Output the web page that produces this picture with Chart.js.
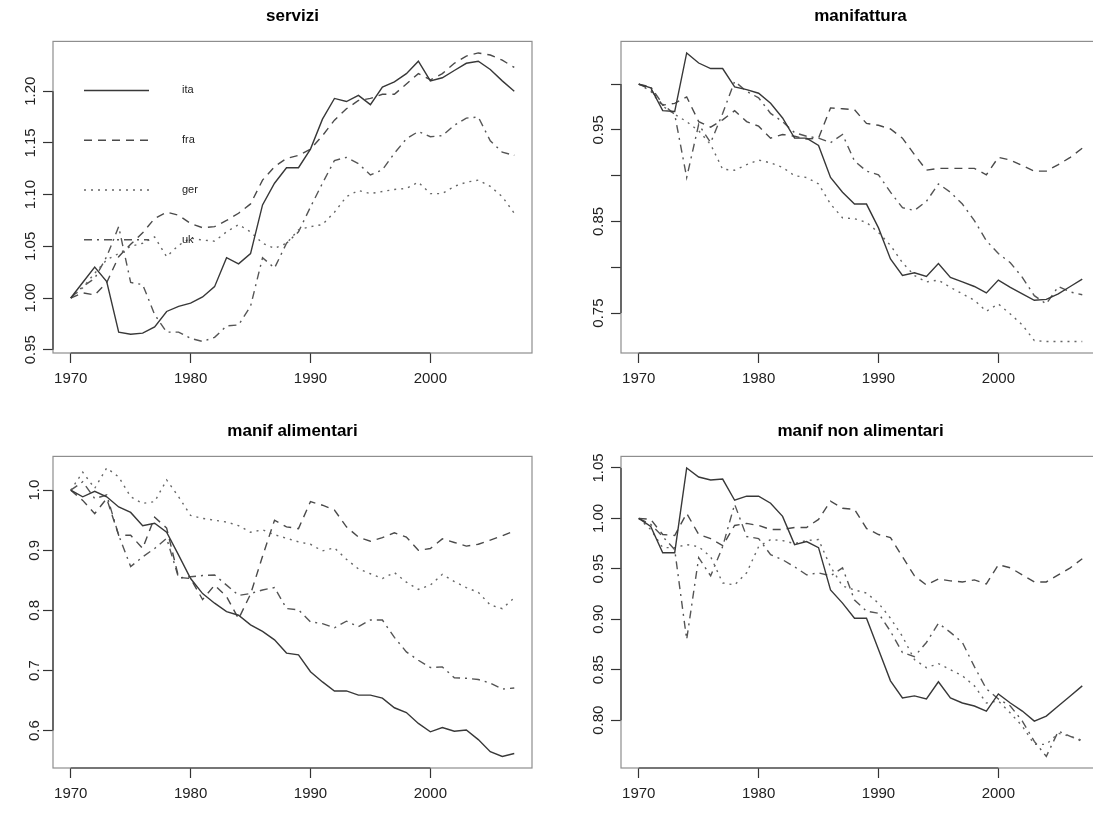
<!DOCTYPE html>
<html>
<head>
<meta charset="utf-8">
<title>servizi e manifattura</title>
<script src="https://cdn.jsdelivr.net/npm/chart.js@4.4.1/dist/chart.umd.min.js"></script>
<style>
    html, body { margin: 0; padding: 0; background: #fff; width: 1093px; height: 814px; overflow: hidden; }
    canvas.panel { position: absolute; }
</style>
</head>
<body>
<canvas id="servizi" class="panel" width="585" height="395" style="left:0px;top:0px"></canvas>
<canvas id="manifattura" class="panel" width="585" height="395" style="left:568px;top:0px"></canvas>
<canvas id="alimentari" class="panel" width="585" height="395" style="left:0px;top:415px"></canvas>
<canvas id="nonAlimentari" class="panel" width="585" height="395" style="left:568px;top:415px"></canvas>
<script>
// years on the x axis
var years = [1970, 1971, 1972, 1973, 1974, 1975, 1976, 1977, 1978, 1979,
             1980, 1981, 1982, 1983, 1984, 1985, 1986, 1987, 1988, 1989,
             1990, 1991, 1992, 1993, 1994, 1995, 1996, 1997, 1998, 1999,
             2000, 2001, 2002, 2003, 2004, 2005, 2006, 2007];
var countries = ['ita', 'fra', 'ger', 'uk'];
var xTicks = [1970, 1980, 1990, 2000];

// servizi
var serviziIta = [1.000, 1.015, 1.030, 1.016, 0.967, 0.965, 0.966, 0.972, 0.987, 0.992,
                  0.995, 1.001, 1.011, 1.039, 1.033, 1.043, 1.090, 1.111, 1.126, 1.126,
                  1.144, 1.173, 1.193, 1.190, 1.196, 1.187, 1.204, 1.209, 1.217, 1.229,
                  1.210, 1.213, 1.220, 1.227, 1.229, 1.221, 1.210, 1.200];
var serviziFra = [1.000, 1.005, 1.003, 1.015, 1.040, 1.052, 1.063, 1.077, 1.083, 1.080,
                  1.072, 1.068, 1.069, 1.075, 1.082, 1.091, 1.114, 1.127, 1.135, 1.138,
                  1.144, 1.157, 1.172, 1.183, 1.191, 1.193, 1.197, 1.197, 1.207, 1.217,
                  1.211, 1.217, 1.227, 1.234, 1.237, 1.235, 1.230, 1.223];
var serviziGer = [1.000, 1.010, 1.024, 1.037, 1.043, 1.050, 1.053, 1.059, 1.040, 1.051,
                  1.058, 1.056, 1.055, 1.064, 1.071, 1.064, 1.053, 1.048, 1.053, 1.066,
                  1.069, 1.071, 1.083, 1.098, 1.104, 1.101, 1.103, 1.105, 1.106, 1.112,
                  1.101, 1.101, 1.108, 1.112, 1.114, 1.108, 1.098, 1.082];
var serviziUk = [1.000, 1.011, 1.019, 1.040, 1.069, 1.015, 1.013, 0.984, 0.967, 0.967,
                 0.961, 0.958, 0.962, 0.973, 0.974, 0.992, 1.039, 1.029, 1.053, 1.064,
                 1.088, 1.111, 1.133, 1.136, 1.130, 1.119, 1.124, 1.140, 1.154, 1.161,
                 1.156, 1.157, 1.167, 1.174, 1.175, 1.152, 1.141, 1.138];
var serviziTicks = [0.95, 1.00, 1.05, 1.10, 1.15, 1.20];
var serviziLabels = ['0.95', '1.00', '1.05', '1.10', '1.15', '1.20'];

// manifattura
var manifIta = [1.000, 0.996, 0.971, 0.970, 1.034, 1.023, 1.017, 1.017, 0.997, 0.994,
                0.990, 0.979, 0.963, 0.941, 0.941, 0.933, 0.898, 0.882, 0.869, 0.869,
                0.843, 0.809, 0.791, 0.794, 0.790, 0.804, 0.789, 0.784, 0.779, 0.772,
                0.786, 0.778, 0.771, 0.764, 0.765, 0.771, 0.779, 0.787];
var manifFra = [1.000, 0.994, 0.977, 0.979, 0.986, 0.959, 0.953, 0.961, 0.971, 0.959,
                0.954, 0.941, 0.945, 0.943, 0.940, 0.941, 0.974, 0.973, 0.972, 0.957,
                0.955, 0.951, 0.941, 0.923, 0.906, 0.908, 0.908, 0.908, 0.908, 0.901,
                0.920, 0.917, 0.911, 0.905, 0.905, 0.912, 0.920, 0.930];
var manifGer = [1.000, 0.992, 0.976, 0.967, 0.959, 0.949, 0.934, 0.907, 0.906, 0.912,
                0.917, 0.914, 0.909, 0.900, 0.898, 0.891, 0.869, 0.854, 0.853, 0.849,
                0.838, 0.824, 0.805, 0.791, 0.784, 0.786, 0.778, 0.771, 0.764, 0.752,
                0.760, 0.749, 0.737, 0.720, 0.719, 0.719, 0.719, 0.719];
var manifUk = [1.000, 0.997, 0.978, 0.967, 0.898, 0.956, 0.936, 0.968, 1.003, 0.992,
               0.985, 0.968, 0.959, 0.947, 0.943, 0.941, 0.936, 0.945, 0.916, 0.905,
               0.901, 0.882, 0.865, 0.862, 0.872, 0.891, 0.882, 0.869, 0.851, 0.829,
               0.815, 0.805, 0.789, 0.769, 0.760, 0.779, 0.773, 0.770];
var manifTicks = [0.75, 0.80, 0.85, 0.90, 0.95, 1.00];
var manifLabels = ['0.75', '', '0.85', '', '0.95', ''];

// manif alimentari
var alimIta = [1.000, 0.989, 0.998, 0.989, 0.972, 0.963, 0.941, 0.945, 0.930, 0.892,
               0.853, 0.828, 0.812, 0.798, 0.792, 0.776, 0.765, 0.751, 0.729, 0.726,
               0.698, 0.681, 0.666, 0.666, 0.659, 0.659, 0.654, 0.638, 0.630, 0.612,
               0.598, 0.605, 0.599, 0.601, 0.585, 0.565, 0.557, 0.562];
var alimFra = [1.000, 0.983, 0.961, 0.986, 0.925, 0.925, 0.903, 0.955, 0.937, 0.855,
               0.853, 0.818, 0.842, 0.823, 0.786, 0.827, 0.890, 0.950, 0.939, 0.936,
               0.981, 0.975, 0.967, 0.939, 0.922, 0.915, 0.921, 0.929, 0.922, 0.900,
               0.903, 0.919, 0.913, 0.907, 0.910, 0.917, 0.924, 0.932];
var alimGer = [1.000, 1.030, 1.003, 1.037, 1.022, 0.989, 0.978, 0.981, 1.017, 0.989,
               0.958, 0.953, 0.950, 0.947, 0.941, 0.930, 0.934, 0.926, 0.920, 0.914,
               0.910, 0.899, 0.904, 0.885, 0.869, 0.861, 0.853, 0.863, 0.847, 0.835,
               0.842, 0.860, 0.848, 0.838, 0.830, 0.809, 0.803, 0.821];
var alimUk = [1.000, 1.014, 0.986, 0.992, 0.925, 0.873, 0.889, 0.903, 0.920, 0.854,
              0.856, 0.858, 0.859, 0.842, 0.825, 0.828, 0.834, 0.838, 0.803, 0.801,
              0.781, 0.778, 0.771, 0.782, 0.773, 0.784, 0.784, 0.755, 0.731, 0.717,
              0.705, 0.706, 0.688, 0.687, 0.685, 0.679, 0.669, 0.671];
var alimTicks = [0.6, 0.7, 0.8, 0.9, 1.0];
var alimLabels = ['0.6', '0.7', '0.8', '0.9', '1.0'];

// manif non alimentari
var nonAlimIta = [1.000, 0.992, 0.966, 0.966, 1.050, 1.041, 1.038, 1.039, 1.018, 1.022,
                  1.022, 1.015, 1.002, 0.974, 0.977, 0.971, 0.929, 0.916, 0.901, 0.901,
                  0.870, 0.839, 0.822, 0.824, 0.821, 0.838, 0.822, 0.817, 0.814, 0.809,
                  0.826, 0.817, 0.809, 0.799, 0.804, 0.814, 0.824, 0.834];
var nonAlimFra = [1.000, 0.999, 0.984, 0.983, 1.005, 0.984, 0.980, 0.973, 0.993, 0.995,
                  0.993, 0.989, 0.989, 0.991, 0.991, 0.999, 1.017, 1.010, 1.009, 0.990,
                  0.984, 0.981, 0.962, 0.943, 0.934, 0.940, 0.938, 0.937, 0.939, 0.935,
                  0.954, 0.951, 0.944, 0.937, 0.937, 0.944, 0.951, 0.960];
var nonAlimGer = [1.000, 0.989, 0.971, 0.971, 0.974, 0.972, 0.962, 0.936, 0.934, 0.946,
                  0.972, 0.979, 0.978, 0.975, 0.978, 0.979, 0.952, 0.933, 0.929, 0.926,
                  0.916, 0.901, 0.883, 0.860, 0.852, 0.856, 0.850, 0.844, 0.834, 0.817,
                  0.819, 0.807, 0.794, 0.776, 0.776, 0.787, 0.784, 0.780];
var nonAlimUk = [1.000, 0.994, 0.982, 0.969, 0.880, 0.961, 0.943, 0.972, 1.014, 0.982,
                 0.980, 0.964, 0.959, 0.952, 0.944, 0.946, 0.943, 0.951, 0.919, 0.908,
                 0.906, 0.888, 0.867, 0.863, 0.877, 0.896, 0.887, 0.877, 0.853, 0.831,
                 0.821, 0.814, 0.799, 0.779, 0.764, 0.789, 0.784, 0.779];
var nonAlimTicks = [0.80, 0.85, 0.90, 0.95, 1.00, 1.05];
var nonAlimLabels = ['0.80', '0.85', '0.90', '0.95', '1.00', '1.05'];

// R style line types: solid, dashed, dotted, dotdash
var lineStyles = {
    ita: { color: '#383838', dash: [] },
    fra: { color: '#4a4a4a', dash: [8, 6] },
    ger: { color: '#666666', dash: [2, 5] },
    uk:  { color: '#555555', dash: [8, 5, 2, 5] }
};
var fontFamily = '"Liberation Sans", Arial, Helvetica, sans-serif';

// box round the plot region + axis lines from first to last tick, like R
var rFrame = {
    id: 'rFrame',
    afterDraw: function (chart) {
        var ctx = chart.ctx;
        var a = chart.chartArea;
        var xs = chart.scales.x, ys = chart.scales.y;
        ctx.save();
        ctx.strokeStyle = '#8e8e8e';
        ctx.lineWidth = 1.2;
        ctx.strokeRect(a.left, a.top, a.right - a.left, a.bottom - a.top);
        ctx.strokeStyle = '#333';
        ctx.lineWidth = 1.2;
        ctx.beginPath();
        ctx.moveTo(xs.getPixelForValue(xs.ticks[0].value), a.bottom);
        ctx.lineTo(xs.getPixelForValue(xs.ticks[xs.ticks.length - 1].value), a.bottom);
        ctx.moveTo(a.left, ys.getPixelForValue(ys.ticks[0].value));
        ctx.lineTo(a.left, ys.getPixelForValue(ys.ticks[ys.ticks.length - 1].value));
        ctx.stroke();
        ctx.restore();
    }
};

// legend of the first panel (no box, long line samples)
var rLegend = {
    id: 'rLegend',
    afterDatasetsDraw: function (chart) {
        var ctx = chart.ctx;
        var a = chart.chartArea;
        ctx.save();
        chart.data.datasets.forEach(function (ds, i) {
            var y = a.top + 49 + i * 49.8;
            ctx.strokeStyle = ds.borderColor;
            ctx.lineWidth = 1.5;
            ctx.setLineDash(ds.borderDash);
            ctx.beginPath();
            ctx.moveTo(a.left + 31, y);
            ctx.lineTo(a.left + 96, y);
            ctx.stroke();
            ctx.setLineDash([]);
            ctx.fillStyle = '#222';
            ctx.font = '11px ' + fontFamily;
            ctx.textBaseline = 'middle';
            ctx.fillText(ds.label, a.left + 129, y);
        });
        ctx.restore();
    }
};

function makePanel(canvasId, title, series, yTicks, yLabels, withLegend) {
    var all = [].concat.apply([], series);
    var lo = Math.min.apply(null, all), hi = Math.max.apply(null, all);
    var pad = (hi - lo) * 0.04;
    var xPad = (years[years.length - 1] - years[0]) * 0.04;

    var datasets = series.map(function (values, i) {
        var st = lineStyles[countries[i]];
        return {
            label: countries[i],
            data: values.map(function (v, j) { return { x: years[j], y: v }; }),
            borderColor: st.color,
            borderDash: st.dash,
            borderWidth: 1.4,
            pointRadius: 0,
            tension: 0,
            fill: false
        };
    });

    var ctx = document.getElementById(canvasId).getContext('2d');
    return new Chart(ctx, {
        type: 'line',
        data: { datasets: datasets },
        plugins: withLegend ? [rFrame, rLegend] : [rFrame],
        options: {
            responsive: false,
            animation: false,
            layout: { padding: 0 },
            plugins: {
                legend: { display: false },
                tooltip: { enabled: false },
                title: {
                    display: true,
                    text: title,
                    color: '#000',
                    font: { family: fontFamily, size: 17, weight: 'bold' },
                    padding: { top: 6, bottom: 15 }
                }
            },
            scales: {
                x: {
                    type: 'linear',
                    min: years[0] - xPad,
                    max: years[years.length - 1] + xPad,
                    border: { display: false },
                    grid: { drawOnChartArea: false, drawTicks: true, tickLength: 10, tickColor: '#333', tickWidth: 1.2 },
                    ticks: {
                        autoSkip: false,
                        maxRotation: 0,
                        padding: 7,
                        color: '#222',
                        font: { family: fontFamily, size: 15 },
                        callback: function (v) { return String(v); }
                    },
                    afterBuildTicks: function (axis) {
                        axis.ticks = xTicks.map(function (v) { return { value: v }; });
                    },
                    afterFit: function (axis) { axis.height = 42; }
                },
                y: {
                    min: lo - pad,
                    max: hi + pad,
                    border: { display: false },
                    grid: { drawOnChartArea: false, drawTicks: true, tickLength: 10, tickColor: '#333', tickWidth: 1.2 },
                    ticks: {
                        autoSkip: false,
                        minRotation: 90,
                        maxRotation: 90,
                        crossAlign: 'center',
                        padding: -2,
                        color: '#222',
                        font: { family: fontFamily, size: 15 },
                        callback: function (v, i) { return yLabels[i]; }
                    },
                    afterBuildTicks: function (axis) {
                        axis.ticks = yTicks.map(function (v) { return { value: v }; });
                    },
                    afterFit: function (axis) { axis.width = 53; }
                },
                // empty right margin, same width as the left one, so the title is centred on the box
                yRight: {
                    position: 'right',
                    border: { display: false },
                    grid: { display: false },
                    ticks: { display: false },
                    afterFit: function (axis) { axis.width = 53; }
                }
            }
        }
    });
}

makePanel('servizi', 'servizi', [serviziIta, serviziFra, serviziGer, serviziUk], serviziTicks, serviziLabels, true);
makePanel('manifattura', 'manifattura', [manifIta, manifFra, manifGer, manifUk], manifTicks, manifLabels, false);
makePanel('alimentari', 'manif alimentari', [alimIta, alimFra, alimGer, alimUk], alimTicks, alimLabels, false);
makePanel('nonAlimentari', 'manif non alimentari', [nonAlimIta, nonAlimFra, nonAlimGer, nonAlimUk], nonAlimTicks, nonAlimLabels, false);
</script>
</body>
</html>
